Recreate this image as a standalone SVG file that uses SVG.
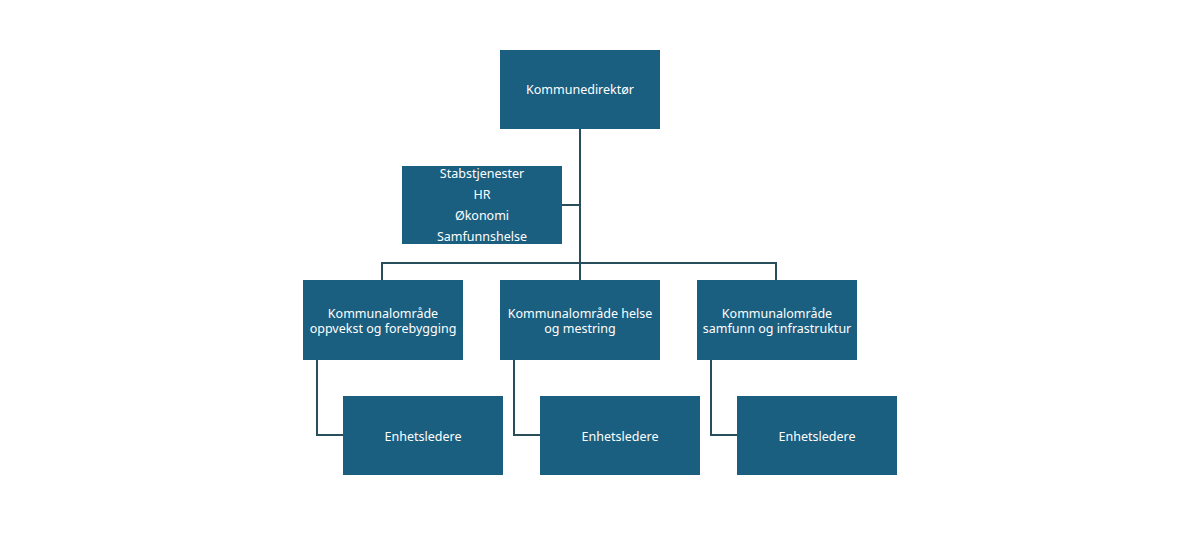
<svg xmlns="http://www.w3.org/2000/svg" width="1200" height="544" viewBox="0 0 1200 544">
<style>
.box{fill:#1a5e80;}
.t{fill:#ffffff;font-family:"Noto Sans","Open Sans",sans-serif;font-size:12.5px;text-anchor:middle;dominant-baseline:central;}
.ln{fill:none;stroke:#284e5b;stroke-width:2;}
</style>
<rect width="1200" height="544" fill="#ffffff"/>
<g id="connectors">
<path class="ln" d="M580,129 V280"/>
<path class="ln" d="M562,205 H580"/>
<path class="ln" d="M382,280 V263 H776 V280"/>
<path class="ln" d="M317,360 V435 H343"/>
<path class="ln" d="M514,360 V435 H540"/>
<path class="ln" d="M711,360 V435 H737"/>
</g>
<g id="kommunedirektor">
<rect class="box" x="500" y="50" width="160" height="79"/>
<text class="t" x="580" y="89">Kommunedirektør</text>
</g>
<g id="stab">
<rect class="box" x="402" y="166" width="160" height="78"/>
<text class="t" x="482" y="173">Stabstjenester</text>
<text class="t" x="482" y="194">HR</text>
<text class="t" x="482" y="215">Økonomi</text>
<text class="t" x="482" y="236">Samfunnshelse</text>
</g>
<g id="oppvekst">
<rect class="box" x="303" y="280" width="160" height="80"/>
<text class="t" x="383" y="313">Kommunalområde</text>
<text class="t" x="383" y="328">oppvekst og forebygging</text>
</g>
<g id="helse">
<rect class="box" x="500" y="280" width="160" height="80"/>
<text class="t" x="580" y="313">Kommunalområde helse</text>
<text class="t" x="580" y="328">og mestring</text>
</g>
<g id="samfunn">
<rect class="box" x="697" y="280" width="160" height="80"/>
<text class="t" x="777" y="313">Kommunalområde</text>
<text class="t" x="777" y="328">samfunn og infrastruktur</text>
</g>
<g id="enhet1">
<rect class="box" x="343" y="396" width="160" height="79"/>
<text class="t" x="423" y="436">Enhetsledere</text>
</g>
<g id="enhet2">
<rect class="box" x="540" y="396" width="160" height="79"/>
<text class="t" x="620" y="436">Enhetsledere</text>
</g>
<g id="enhet3">
<rect class="box" x="737" y="396" width="160" height="79"/>
<text class="t" x="817" y="436">Enhetsledere</text>
</g>
</svg>
